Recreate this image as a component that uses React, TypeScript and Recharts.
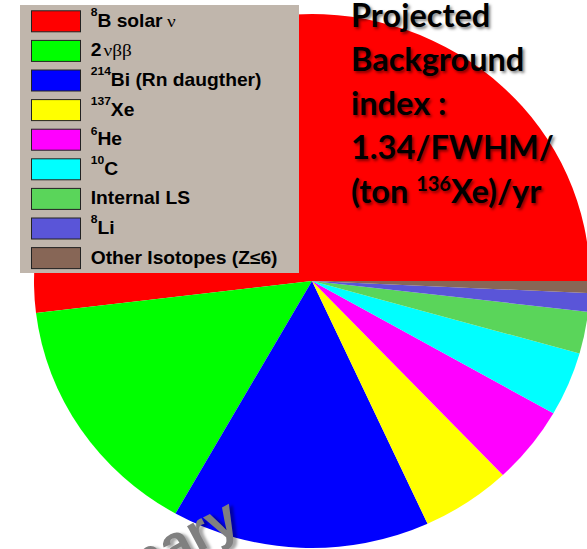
import React from 'react';
import { PieChart, Pie, Cell, Legend } from 'recharts';

// Data (share of 1.34 counts/FWHM/(ton 136Xe)/yr)
const categories = [
  '8B solar ν',
  '2νββ',
  '214Bi (Rn daugther)',
  '137Xe',
  '6He',
  '10C',
  'Internal LS',
  '8Li',
  'Other Isotopes (Z≤6)',
];
const values = [0.696, 0.2, 0.201, 0.07, 0.063, 0.052, 0.034, 0.015, 0.0097];
const colors = ['#ff0000', '#00ff00', '#0000ff', '#ffff00', '#ff00ff', '#00ffff', '#5ad55a', '#5a55d8', '#876656'];

// Legend label pieces
const labelSups = ['8', '', '214', '137', '6', '10', '', '8', ''];
const labelMains = ['B solar', '2', 'Bi (Rn daugther)', 'Xe', 'He', 'C', 'Internal LS', 'Li', 'Other Isotopes (Z≤6)'];
const labelSymbols = ['ν', 'νββ', '', '', '', '', '', '', ''];

// Title text
const titleLines = ['Projected', 'Background', 'index :', '1.34/FWHM/'];
const titleLastPre = '(ton ';
const titleLastSup = '136';
const titleLastPost = 'Xe)/yr';
const watermark = 'Preliminary';

function LegendBox() {
  return (
    <svg width={279} height={268} style={{ display: 'block' }}>
      <rect x={0} y={0} width={279} height={268} fill="#c0b6ac" />
      {categories.map((c, i) => {
        const y0 = 5.3 + i * 29.6;
        const base = 21.7 + i * 29.6;
        const sup = labelSups[i];
        const sym = labelSymbols[i];
        return (
          <g key={c}>
            <rect x={11.5} y={y0 + 0.5} width={49} height={21} fill={colors[i]} stroke="#222" strokeWidth={1} />
            <text
              transform={`translate(70.7,${base}) scale(1.1,1)`}
              fontFamily="'Liberation Sans', Arial, sans-serif"
              fontWeight="bold"
              fontSize={17.5}
              fill="#000"
            >
              {sup ? (
                <tspan fontSize={11} dy={-10.5}>
                  {sup}
                </tspan>
              ) : null}
              <tspan dy={sup ? 10.5 : 0}>{labelMains[i]}</tspan>
              {sym ? (
                <tspan fontFamily="'Liberation Serif', serif" fontWeight="normal" dx={i === 0 ? 4 : 2}>
                  {sym}
                </tspan>
              ) : null}
            </text>
          </g>
        );
      })}
    </svg>
  );
}

export default function App() {
  const data = categories.map((name, i) => ({ name, value: values[i] }));
  return (
    <div
      style={{
        position: 'absolute',
        left: 0,
        top: 0,
        width: 587,
        height: 549,
        overflow: 'hidden',
        background: '#fff',
      }}
    >
      <style>{`.recharts-pie{transform:scale(1,0.96);transform-origin:312px 281px;} .recharts-wrapper svg{overflow:hidden}`}</style>
      <PieChart width={587} height={549} margin={{ top: 0, right: 0, bottom: 0, left: 0 }}>
        <Pie
          data={data}
          dataKey="value"
          nameKey="name"
          cx={312}
          cy={281}
          innerRadius={0}
          outerRadius={278}
          startAngle={0}
          endAngle={360}
          stroke="none"
          isAnimationActive={false}
        >
          {data.map((d, i) => (
            <Cell key={d.name} fill={colors[i]} stroke="none" />
          ))}
        </Pie>
        <Legend
          layout="vertical"
          align="center"
          verticalAlign="middle"
          wrapperStyle={{ position: 'absolute', left: 20, top: 5, width: 279, height: 268, margin: 0 }}
          content={LegendBox}
        />
      </PieChart>
      <div
        style={{
          position: 'absolute',
          left: 351,
          top: -7,
          fontFamily: 'Lato, sans-serif',
          fontWeight: 700,
          fontSize: 32.5,
          lineHeight: '44px',
          color: '#000',
          textShadow: '2px 2px 3px rgba(0,0,0,0.5)',
          whiteSpace: 'nowrap',
        }}
      >
        {titleLines.map((t) => (
          <div key={t}>{t}</div>
        ))}
        <div>
          {titleLastPre}
          <span style={{ fontSize: 20, position: 'relative', top: -12 }}>{titleLastSup}</span>
          {titleLastPost}
        </div>
      </div>
      <div style={{ position: 'absolute', left: 246, top: 536, width: 0, height: 0 }}>
        <div
          style={{
            position: 'absolute',
            right: 0,
            bottom: 0,
            transform: 'rotate(-28deg)',
            transformOrigin: '100% 100%',
            fontFamily: "'Liberation Sans', Arial, sans-serif",
            fontWeight: 700,
            fontSize: 54,
            lineHeight: 1,
            color: '#808080',
            textShadow: '3px 3px 3px rgba(0,0,0,0.35)',
            whiteSpace: 'nowrap',
          }}
        >
          {watermark}
        </div>
      </div>
    </div>
  );
}
